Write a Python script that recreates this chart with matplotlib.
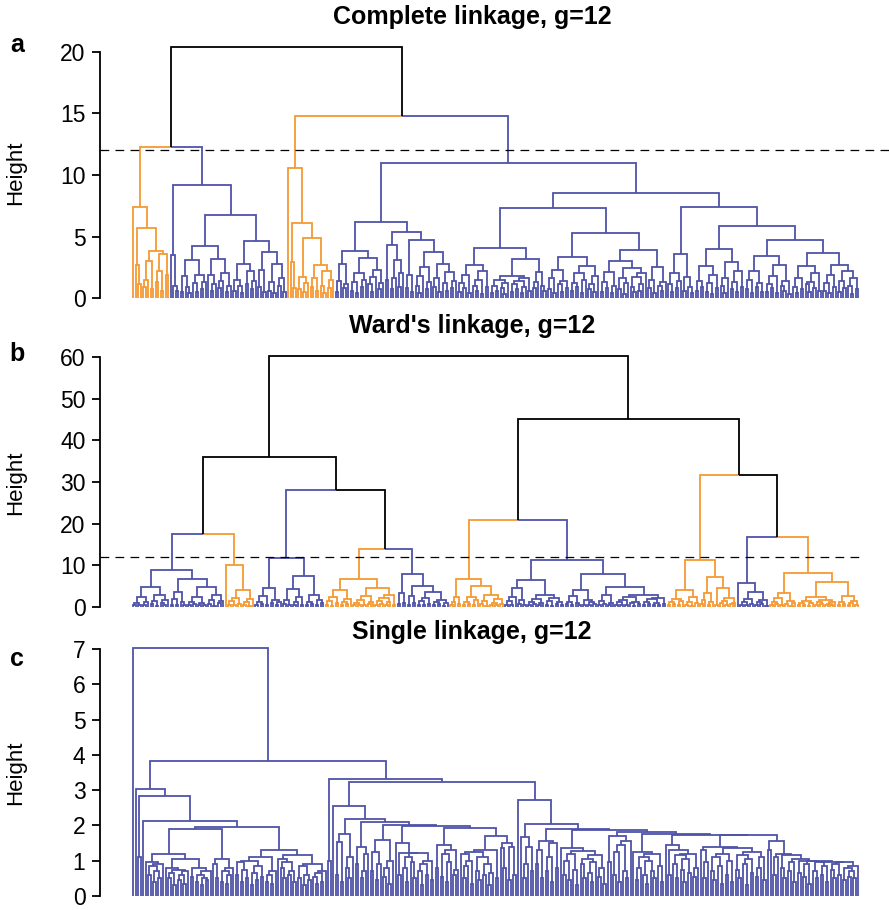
import matplotlib
matplotlib.use('Agg')
import matplotlib.pyplot as plt
from matplotlib.collections import LineCollection

plt.rcParams['font.family'] = ['Liberation Sans', 'DejaVu Sans']

BLUE = '#4f53a8'
ORANGE = '#f49a33'

# Each list holds the merge height between neighbouring leaves, left to right,
# inside one cluster; the *_links lists hold the heights joining adjacent clusters.

# complete linkage
complete_o1 = [7.4, 2.7, 1.1, 5.7, 0.9, 1.5, 3.0, 0.7, 3.85, 1.3, 2.2, 0.6, 3.6, 1.9]
complete_b1 = [3.5, 1.0, 0.6, 9.2,
               0.5, 1.76, 0.9, 0.4, 3.06, 1.2, 0.5, 1.84, 0.7, 1.3, 4.2,
               1.9, 0.6, 1.1, 3.2, 0.8, 1.4, 2.0, 0.5, 1.0, 6.75,
               0.6, 1.5, 1.0, 0.4, 2.79, 1.1, 2.2, 0.7, 1.4, 4.66,
               0.9, 2.3, 0.5, 3.76, 0.6, 1.3, 0.4, 2.8, 1.0, 1.6, 0.5]
complete_o2 = [10.6, 2.95, 0.8, 6.1, 0.7, 1.7, 0.5, 1.2, 4.85,
               0.9, 1.6, 0.6, 2.7, 1.0, 0.4, 2.2, 0.8, 1.5]
complete_b2 = [0.5, 1.4, 2.76, 0.8, 1.1, 3.85, 0.6, 1.3, 0.4, 2.0, 0.9, 1.5, 3.28,
               1.1, 0.5, 1.7, 2.3, 0.7, 1.2, 6.15,
               1.5, 4.3, 0.7, 1.6, 3.1, 0.9, 2.0, 5.4, 0.8, 1.9, 0.5, 4.7,
               1.0, 0.4, 1.8, 2.55, 0.7, 1.3, 3.7, 0.9, 1.6, 0.5, 2.8, 1.2, 0.6, 2.1, 0.8, 1.4,
               10.95,
               0.5, 1.2, 0.8, 1.9, 0.4, 2.7, 1.0, 0.6, 1.5, 0.3, 2.2, 0.9, 4.1,
               0.4, 1.0, 0.6, 1.5, 0.8, 0.3, 1.2, 1.8, 0.5, 1.1, 0.7, 1.4, 0.4, 0.9, 1.6, 0.6,
               3.2, 0.8, 1.3, 2.1, 1.0, 0.6, 7.35,
               0.7, 1.6, 0.4, 2.3, 1.1, 0.5, 1.4, 0.8, 3.36, 0.6, 1.2, 0.9, 2.0, 0.4, 1.5, 2.6,
               0.7, 1.1, 0.5, 1.8, 5.25,
               0.5, 1.3, 0.8, 2.1, 0.4, 1.0, 3.0, 0.7, 1.6, 0.3, 1.2, 2.4, 0.9, 0.5, 1.7, 0.6,
               1.1, 2.0, 3.9, 0.8, 1.5, 0.4, 2.5, 1.0, 0.6, 1.3, 8.5,
               1.1, 0.5, 2.0, 0.8, 1.4, 3.58, 0.6, 1.7, 0.9, 0.4, 7.43,
               0.6, 1.4, 0.9, 2.6, 0.5, 1.2, 0.3, 1.9, 0.8, 4.0, 1.0, 0.4, 1.6, 2.9, 0.7, 1.3,
               0.5, 2.2, 0.9, 5.85,
               0.7, 1.5, 0.4, 2.2, 0.9, 1.2, 0.5, 3.4, 0.5, 1.1, 0.8, 1.8, 0.4, 2.7, 1.0, 0.6,
               1.4, 0.3, 4.7,
               0.9, 0.4, 1.6, 0.7, 2.6, 1.1, 0.5, 1.3, 0.8, 2.0, 0.6, 3.63, 0.6, 1.2, 0.4, 1.9,
               0.9, 2.7, 0.5, 1.4, 0.8, 2.2, 1.0, 0.3, 1.6, 0.7]
complete_links = [12.3, 20.4, 14.8]

# Ward's linkage
ward_c1 = [0.4, 1.0, 0.6, 2.3, 0.5, 1.3, 4.7, 0.7, 1.5, 0.3, 2.9, 0.9, 0.5, 1.8, 8.9,
           0.6, 1.9, 0.4, 3.5, 1.1, 0.5, 6.7, 0.5, 1.2, 0.8, 2.4, 0.4, 1.0, 0.6, 4.7,
           0.7, 1.6, 0.3, 2.8, 0.9, 1.4]
ward_c2 = [10.1, 0.6, 1.4, 0.4, 2.2, 0.8, 4.0, 0.5, 1.1, 0.3, 1.9]
ward_c3 = [0.5, 1.3, 0.7, 2.6, 0.4, 4.5, 0.9, 1.8, 0.6, 1.1, 11.7,
           0.8, 1.7, 0.4, 4.3, 0.6, 1.2, 2.5, 0.5, 7.5, 0.4, 1.1, 0.7, 3.0, 0.5, 1.6, 0.9]
ward_c4 = [0.6, 1.5, 0.3, 2.4, 0.9, 4.1, 0.5, 1.2, 0.7, 1.9, 6.7,
           0.4, 1.0, 0.6, 1.8, 0.5, 2.7, 0.8, 1.3, 4.6, 0.5, 1.4, 0.7, 2.2, 0.4, 1.1, 3.0, 0.6]
ward_c5 = [0.7, 3.3, 1.0, 7.9, 0.5, 2.6, 0.9, 5.0,
           0.6, 1.4, 0.4, 2.1, 0.8, 3.5, 0.5, 1.2, 0.7, 1.8, 0.3, 1.0]
ward_c6 = [0.6, 1.3, 2.5, 0.8, 6.7,
           0.5, 1.1, 0.7, 2.3, 0.4, 1.6, 5.0, 0.8, 1.4, 0.3, 2.8, 0.6, 1.0, 0.5, 1.9, 0.7]
ward_c7 = [0.6, 1.5, 0.4, 2.3, 4.5, 0.8, 1.7, 0.5, 6.6,
           0.5, 1.2, 0.7, 1.9, 0.4, 1.0, 3.0, 0.6, 1.4, 0.3, 2.2, 0.8, 1.1, 0.5, 11.3,
           0.7, 1.3, 0.4, 2.6, 0.9, 0.5, 4.2, 0.6, 1.8, 0.4, 1.1, 0.8, 7.85,
           0.5, 1.4, 0.8, 2.8, 0.6, 1.0, 4.9,
           0.4, 1.1, 0.6, 1.7, 0.5, 2.3, 0.9, 0.3, 1.3, 0.7, 2.9, 0.5, 1.2, 0.8, 1.9, 0.4,
           1.0, 0.6, 2.1, 0.7]
ward_c8 = [0.5, 1.2, 0.8, 2.0, 0.4, 1.5, 4.1, 0.6, 1.3, 0.3, 2.4, 0.9, 11.4,
           0.7, 1.6, 3.4, 0.5, 1.1, 7.1, 0.6, 4.5, 0.9, 1.4, 0.4, 2.2, 0.7, 1.0]
ward_c9 = [5.8, 0.6, 1.3, 0.4, 2.0, 0.8, 3.5, 0.5, 1.1, 0.7, 1.6, 0.3]
ward_c10 = [0.5, 1.2, 0.7, 2.1, 0.4, 3.4, 0.8, 1.5, 0.3, 1.0, 8.2,
            0.4, 0.9, 0.6, 1.4, 0.3, 1.0, 2.5, 0.5, 1.2, 0.7, 1.8, 0.4, 0.8, 0.6, 1.3, 6.1,
            0.5, 1.1, 0.7, 2.6, 0.4, 0.9, 1.5, 0.6]
ward_links = [17.5, 36.0, 28.1, 13.9, 60.3, 20.9, 45.1, 31.7, 16.8]

# single linkage
single_left = [7.03, 3.02, 1.1, 2.82, 2.13,
               0.95, 0.6, 0.85, 0.4, 0.7, 0.5, 0.9, 1.2,
               0.8, 0.5, 0.65, 0.3, 0.75, 0.45, 0.6, 0.35, 0.7, 1.05,
               0.55, 0.8, 0.4, 0.6, 0.3, 0.5, 0.45, 0.7, 1.89,
               0.9, 0.5, 1.05, 0.4, 0.7, 0.35, 0.6, 0.8, 1.95,
               0.6, 0.95, 0.4, 0.75, 0.5, 1.0, 0.3, 0.65, 0.45, 0.85, 0.55, 1.1, 0.4, 0.6,
               0.35, 0.7, 1.3,
               1.05, 0.8, 0.5, 0.95, 0.6, 0.7, 0.4, 1.15,
               0.5, 0.85, 0.3, 0.6, 0.45, 0.9, 0.55, 0.35, 0.65, 0.4, 0.7]
single_right = [1.0, 3.32, 2.55,
                0.6, 1.53, 0.4, 1.75, 0.8, 0.5, 1.1, 2.18,
                0.9, 1.4, 0.5, 0.7, 1.2, 2.1,
                0.7, 1.25, 0.45, 0.9, 1.6, 0.55, 0.8, 0.35, 1.0, 2.0,
                1.49, 0.6, 1.23, 0.8, 0.4, 1.1, 0.95, 0.5, 1.23, 0.7, 0.3, 0.9, 0.6, 1.0, 0.45,
                1.98,
                0.8, 1.45, 0.55, 1.2, 0.4, 0.95, 1.3, 0.6, 0.75, 1.93,
                1.2, 0.5, 0.85, 1.0, 0.35, 1.25, 0.7, 0.45, 1.1, 0.6, 0.9, 0.3, 0.65, 1.3, 0.5,
                1.7,
                1.35, 0.8, 1.5, 0.45, 1.4, 0.6, 3.23, 2.71,
                1.67, 0.5, 0.9, 1.4, 0.7, 2.04,
                0.9, 1.3, 0.5, 1.55, 0.7, 1.1, 0.4, 1.5, 0.8, 1.9,
                1.35, 0.6, 1.0, 0.45, 1.2, 0.75, 0.3, 1.28, 0.9, 0.5, 1.05, 0.65, 0.4, 0.95,
                1.15, 0.55, 0.8, 0.35, 1.86,
                0.95, 1.7, 0.6, 1.25, 0.4, 1.45, 0.7, 0.5, 1.55, 1.8,
                1.25, 0.45, 0.8, 1.1, 0.6, 0.35, 1.0, 0.7, 0.5, 1.2, 0.85, 0.4, 1.76,
                1.45, 0.6, 1.3, 0.9, 0.5, 1.15, 0.75, 0.4, 1.05, 0.65, 1.2, 0.55, 0.8, 1.74,
                1.3, 0.5, 0.95, 1.4, 0.7, 0.45, 1.1, 0.85, 0.35, 1.2, 0.6, 1.0, 0.4, 1.35, 0.75,
                0.5, 1.15, 0.9, 0.3, 1.05, 0.65, 1.25, 0.55, 0.8, 1.1, 0.45, 1.72,
                1.3, 1.56, 0.6, 1.1, 1.2, 0.8, 0.5, 1.15, 0.7, 0.95, 0.4, 1.05, 0.65, 1.0, 0.55,
                0.9, 0.35, 0.98, 0.7, 0.5, 0.95, 0.6, 0.85, 0.4, 0.97, 0.75, 0.5, 0.9, 0.6,
                0.96, 0.45, 0.8, 0.55, 0.7, 0.5, 0.85]
single_links = [3.82]

W, H = 889, 910
fig = plt.figure(figsize=(W / 100, H / 100), dpi=100)


def leaf_gaps(clusters, links, colors):
    gaps, leaf_col = [], []
    for k, c in enumerate(clusters):
        if k:
            gaps.append(links[k - 1])
        gaps.extend(c)
        leaf_col.extend([colors[k]] * (len(c) + 1))
    return gaps, leaf_col


def dendro(ax, gaps, leaf_col):
    segs, cols = [], []

    def walk(lo, hi):
        if lo == hi:
            return lo, 0.0, leaf_col[lo]
        part = gaps[lo:hi]
        k = lo + part.index(max(part))
        left = walk(lo, k)
        right = walk(k + 1, hi)
        h = gaps[k]
        x = (left[0] + right[0]) / 2
        for xc, hc, cc in (left, right):
            segs.append([(xc, hc), (xc, h), (x, h)])
            cols.append(cc or 'black')
        return x, h, left[2] if left[2] == right[2] else None

    walk(0, len(gaps))
    order = sorted(range(len(segs)), key=lambda i: cols[i] == 'black')
    lc = LineCollection([segs[i] for i in order], colors=[cols[i] for i in order],
                        linewidths=1.3, capstyle='butt', joinstyle='miter', clip_on=False)
    ax.add_collection(lc)


panels = [
    dict(clusters=[complete_o1, complete_b1, complete_o2, complete_b2], links=complete_links,
         colors=[ORANGE, BLUE, ORANGE, BLUE], base=298, scale=12.3, top=21,
         ticks=[0, 5, 10, 15, 20], right=889, cut=12, title='Complete linkage, g=12',
         title_y=17, letter='a', letter_y=45, label_y=173),
    dict(clusters=[ward_c1, ward_c2, ward_c3, ward_c4, ward_c5, ward_c6, ward_c7, ward_c8,
                   ward_c9, ward_c10], links=ward_links,
         colors=[BLUE, ORANGE] * 5, base=607, scale=250 / 60, top=62,
         ticks=[0, 10, 20, 30, 40, 50, 60], right=862, cut=12, title="Ward's linkage, g=12",
         title_y=326, letter='b', letter_y=354, label_y=483),
    dict(clusters=[single_left, single_right], links=single_links,
         colors=[BLUE, BLUE], base=896, scale=247 / 7, top=7.3,
         ticks=[0, 1, 2, 3, 4, 5, 6, 7], right=870, cut=None, title='Single linkage, g=12',
         title_y=632, letter='c', letter_y=659, label_y=773),
]

L, X0, X1 = 100, 133, 858
for p in panels:
    gaps, leaf_col = leaf_gaps(p['clusters'], p['links'], p['colors'])
    n = len(gaps) + 1
    dx = (X1 - X0) / (n - 1)
    R = p['right']
    ax = fig.add_axes([L / W, 1 - p['base'] / H, (R - L) / W, p['top'] * p['scale'] / H])
    ax.set_xlim(-(X0 - L) / dx, n - 1 + (R - X1) / dx)
    ax.set_ylim(0, p['top'])
    dendro(ax, gaps, leaf_col)

    for s in ('top', 'right', 'bottom'):
        ax.spines[s].set_visible(False)
    ax.spines['left'].set_bounds(0, p['ticks'][-1])
    ax.spines['left'].set_linewidth(1.3)
    ax.set_xticks([])
    ax.set_yticks(p['ticks'])
    ax.tick_params(axis='y', length=5.5, width=1.3, labelsize=16.5, pad=5)
    ax.patch.set_visible(False)
    if p['cut'] is not None:
        ax.axhline(p['cut'], color='black', lw=0.9, ls=(0, (7, 5)))

    fig.text(472 / W, 1 - p['title_y'] / H, p['title'], ha='center', va='center',
             fontsize=18, fontweight='bold')
    fig.text(17 / W, 1 - p['letter_y'] / H, p['letter'], ha='center', va='center',
             fontsize=18, fontweight='bold')
    fig.text(16 / W, 1 - p['label_y'] / H, 'Height', rotation=90, ha='center',
             va='center', fontsize=16)

fig.savefig('out.png', dpi=100)
